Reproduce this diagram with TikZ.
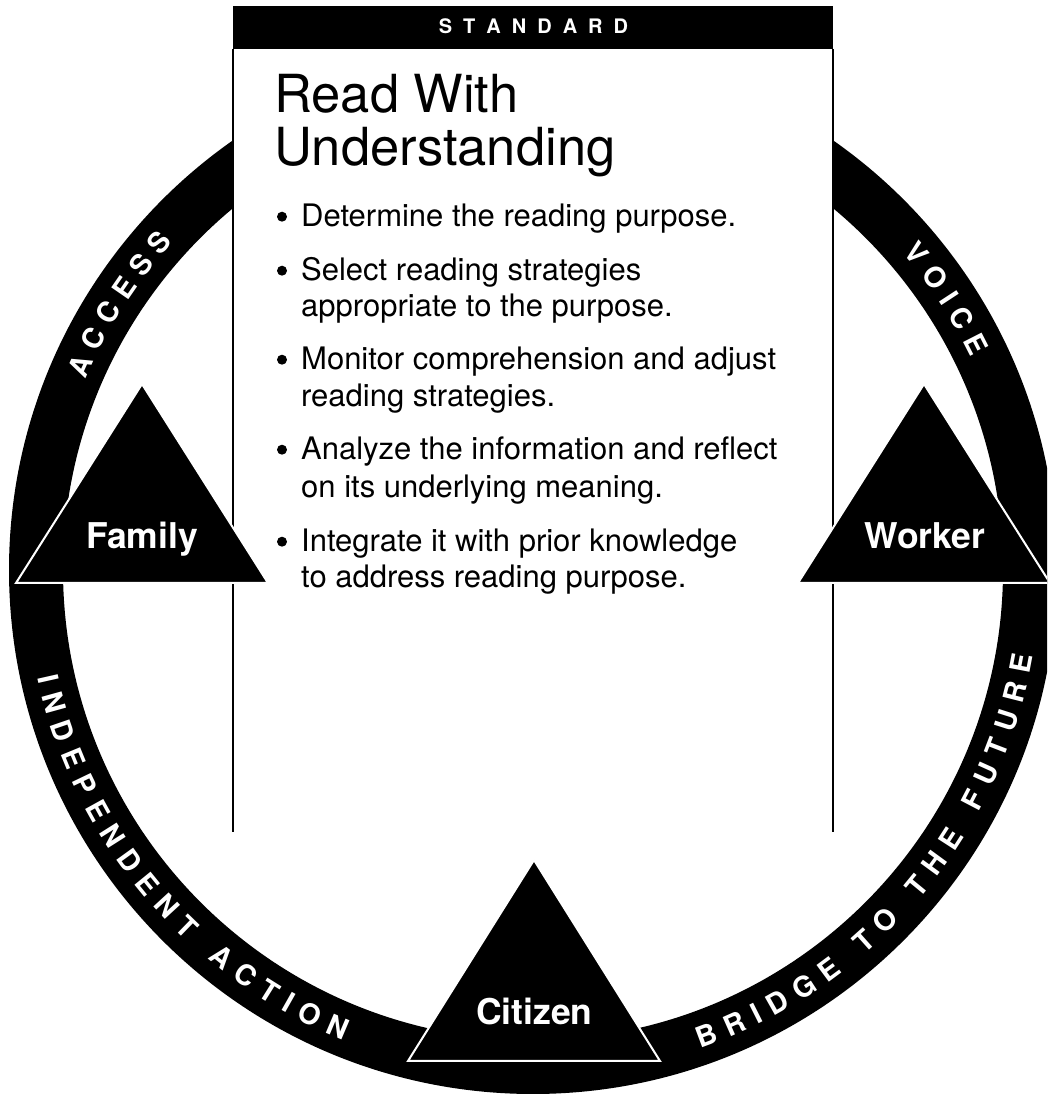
\documentclass[tikz,border=0pt]{standalone}
\usepackage{fontspec}
\setmainfont{TeX Gyre Heros}
\usetikzlibrary{calc}
\newlength\rtw
\newcommand\ringfont{\fontsize{28.5}{28.5}\selectfont\bfseries}
\def\rtspace{*}
\def\rr{497}
\def\rttrack{9.6}
\newcommand\rtmeasure[1]{\settowidth\rtw{\ringfont #1}\expandafter\xdef\csname rtw@#1\endcsname{\the\rtw}}
\newcommand\ringtext[4]{%
  \xdef\rttot{0}%
  \foreach \ch in {#4}{%
    \edef\rtcw{\csname rtw@\ch\endcsname}%
    \pgfmathsetmacro\rttmp{\rttot+\rtcw+\rttrack}%
    \xdef\rttot{\rttmp}%
  }%
  \pgfmathsetmacro\rtlen{\rttot-\rttrack}%
  \pgfmathsetmacro\rtstart{#2-(#3)*deg(\rtlen/\rr)/2}%
  \xdef\rtcum{0}%
  \foreach \ch [count=\ci] in {#4}{%
    \edef\rtcw{\csname rtw@\ch\endcsname}%
    \pgfmathsetmacro\rtang{\rtstart+(#3)*deg((\rtcum+0.5*\rtcw)/\rr)}%
    \pgfmathsetmacro\rtrot{\rtang+(#3)*90}%
    \ifx\ch\rtspace\else
      \node[ringletter, rotate=\rtrot] (#1\ci) at ($(ctr)+(\rtang:\rr pt)$) {\ch};%
    \fi
    \pgfmathsetmacro\rttmp{\rtcum+\rtcw+\rttrack}%
    \xdef\rtcum{\rttmp}%
  }%
}
\begin{document}
\foreach \L in {A,B,C,D,E,F,G,H,I,N,O,P,R,S,T,U,V}{\rtmeasure{\L}}%
\settowidth\rtw{\ringfont\kern0.278em}\expandafter\xdef\csname rtw@*\endcsname{\the\rtw}%
\begin{tikzpicture}[x=1pt,y=1pt,
  ringletter/.style={text=white, font=\ringfont, inner sep=0pt, text height=20.5pt, text depth=0pt},
  tri/.style={fill=black, draw=white, line width=2pt, line join=miter},
  trilabel/.style={text=white, font=\fontsize{35.5}{36}\selectfont\bfseries, anchor=base, inner sep=0pt},
  titletext/.style={font=\fontsize{52.5}{53}\selectfont, anchor=base west, inner sep=0pt},
  bullettext/.style={font=\fontsize{31}{37}\selectfont, anchor=base west, inner sep=0pt},
  bulletdot/.style={circle, fill=black, minimum size=10pt, inner sep=0pt},
  boxline/.style={line width=1.2pt, black}
]
\useasboundingbox (0,0) rectangle (1047,1095);
\fill[white] (0,0) rectangle (1047,1095);
\clip (0,0) rectangle (1047,1095);

\coordinate (ctr) at (533,525);
% ring
\fill[black, even odd rule] (ctr) circle (524pt) (ctr) circle (470pt);
% ring texts
\ringtext{acc}{147.3}{-1}{A,C,C,E,S,S}
\ringtext{voi}{33.3}{-1}{V,O,I,C,E}
\ringtext{ind}{220.2}{1}{I,N,D,E,P,E,N,D,E,N,T,*,A,C,T,I,O,N}
\ringtext{bri}{319.8}{1}{B,R,I,D,G,E,*,T,O,*,T,H,E,*,F,U,T,U,R,E}

% standard box
\fill[white] (233,1089) rectangle (833,263);
\fill[black] (233,1089) rectangle (833,1046);
\draw[boxline] (233,1046) -- (233,263);
\draw[boxline] (833,1046) -- (833,263);
\node[text=white, font=\fontsize{20}{20}\selectfont\bfseries, anchor=base, inner sep=0pt] (std) at (533.5,1061)
  {S\kern11pt T\kern11pt A\kern11pt N\kern11pt D\kern11pt A\kern11pt R\kern11pt D};
\node[titletext] (t1) at (274,982) {Read With};
\node[titletext] (t2) at (274,929) {Understanding};

\node[bulletdot] (d1) at (282,878.3) {};
\node[bullettext] (l1) at (301,868) {Determine the reading purpose.};
\node[bulletdot] (d2) at (282,824.3) {};
\node[bullettext] (l2a) at (301,814) {Select reading strategies};
\node[bullettext] (l2b) at (301,778) {appropriate to the purpose.};
\node[bulletdot] (d3) at (282,735.3) {};
\node[bullettext] (l3a) at (301,725) {Monitor comprehension and adjust};
\node[bullettext] (l3b) at (301,688) {reading strategies.};
\node[bulletdot] (d4) at (282,645.3) {};
\node[bullettext] (l4a) at (301,635) {Analyze the information and reflect};
\node[bullettext] (l4b) at (301,597) {on its underlying meaning.};
\node[bulletdot] (d5) at (282,553.3) {};
\node[bullettext] (l5a) at (301,543) {Integrate it with prior knowledge};
\node[bullettext] (l5b) at (301,507) {to address reading purpose.};

% triangles
\coordinate (famA) at (142,711); \coordinate (famL) at (16,512); \coordinate (famR) at (268,512);
\coordinate (wrkA) at (924,711); \coordinate (wrkL) at (798,512); \coordinate (wrkR) at (1050,512);
\coordinate (citA) at (534,235); \coordinate (citL) at (408,34); \coordinate (citR) at (660,34);
\filldraw[tri] (famA) -- (famL) -- (famR) -- cycle;
\filldraw[tri] (wrkA) -- (wrkL) -- (wrkR) -- cycle;
\filldraw[tri] (citA) -- (citL) -- (citR) -- cycle;
\node[trilabel] (family) at (142,546) {Family};
\node[trilabel] (worker) at (925,546) {Worker};
\node[trilabel] (citizen) at (534.5,70) {Citizen};
\end{tikzpicture}
\end{document}
